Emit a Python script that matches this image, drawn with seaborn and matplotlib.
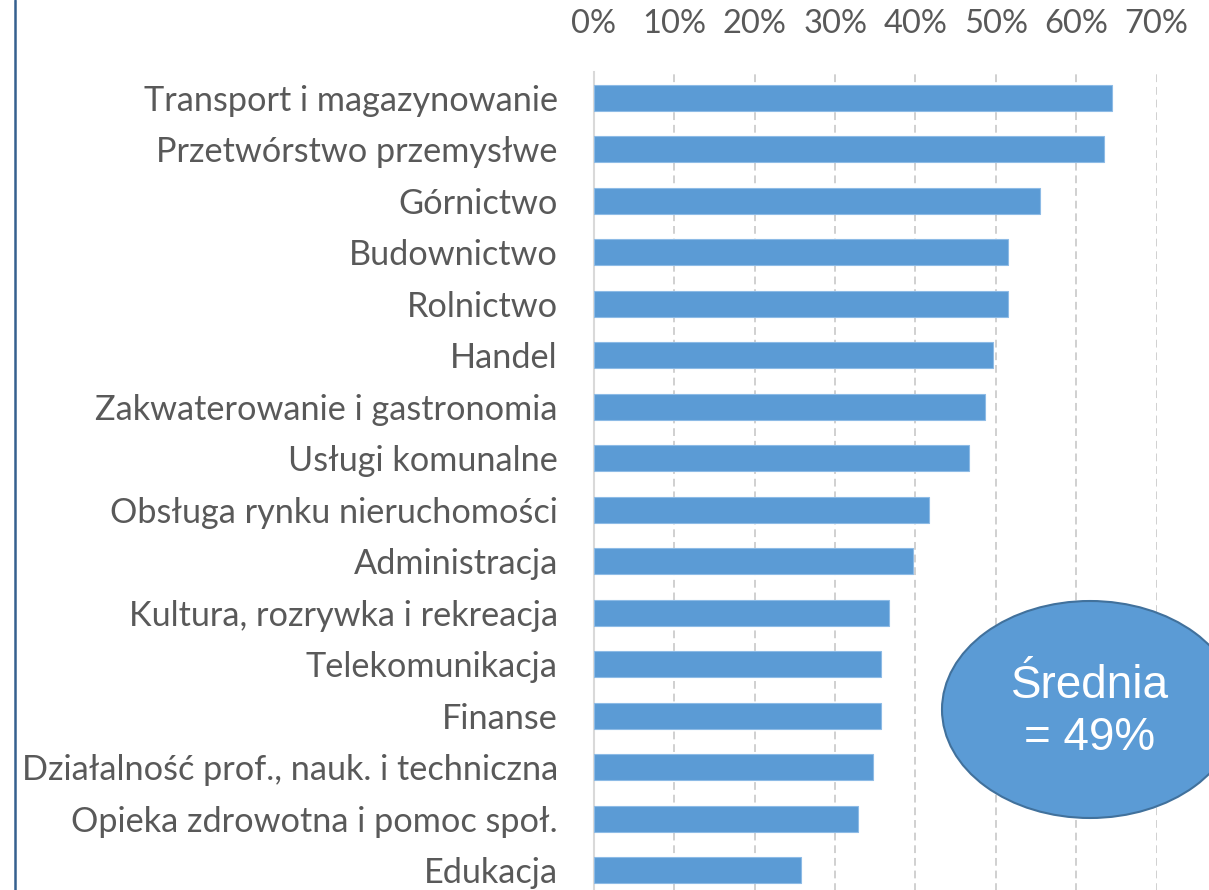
import pandas as pd
import seaborn as sns
import matplotlib.pyplot as plt
from matplotlib.patches import Ellipse
from matplotlib.lines import Line2D
from matplotlib.ticker import PercentFormatter

# Dane
branze = [
    "Transport i magazynowanie",
    "Przetwórstwo przemysłwe",
    "Górnictwo",
    "Budownictwo",
    "Rolnictwo",
    "Handel",
    "Zakwaterowanie i gastronomia",
    "Usługi komunalne",
    "Obsługa rynku nieruchomości",
    "Administracja",
    "Kultura, rozrywka i rekreacja",
    "Telekomunikacja",
    "Finanse",
    "Działalność prof., nauk. i techniczna",
    "Opieka zdrowotna i pomoc społ.",
    "Edukacja",
]
udzial = [0.645, 0.635, 0.555, 0.515, 0.515, 0.496, 0.487, 0.467,
          0.417, 0.397, 0.367, 0.357, 0.357, 0.347, 0.328, 0.258]
xticks = [0, 0.1, 0.2, 0.3, 0.4, 0.5, 0.6, 0.7]
srednia = "Średnia\n= 49%"

df = pd.DataFrame({"Branza": branze, "Udzial": udzial})

sns.set_style("white")
plt.rcParams["font.family"] = ["Lato", "DejaVu Sans"]

fig = plt.figure(figsize=(12.09, 8.90), dpi=100)
ax = fig.add_axes([594 / 1209, -6 / 890, 562.6 / 1209, 824 / 890])

sns.barplot(data=df, x="Udzial", y="Branza", color="#5B9BD5", width=0.5,
            saturation=1, edgecolor="#8DBBE6", linewidth=0.8, ax=ax, zorder=3)

ax.set_xlim(0, 0.7)
ax.set_xticks(xticks)
ax.xaxis.set_major_formatter(PercentFormatter(1.0, decimals=0))
ax.xaxis.tick_top()
ax.tick_params(axis="x", length=0, pad=24, labelsize=23.5, labelcolor="#595959")
ax.tick_params(axis="y", length=0, pad=26, labelsize=24.7, labelcolor="#595959")
ax.set_xlabel("")
ax.set_ylabel("")

ax.grid(axis="x", color="#D0D0D0", linewidth=1.4, linestyle=(0, (4, 2.5)), zorder=0)
for s in ["top", "right", "bottom"]:
    ax.spines[s].set_visible(False)
ax.spines["left"].set_color("#D9D9D9")
ax.spines["left"].set_linewidth(1.5)

# elipsa ze średnią
el = Ellipse((1090 / 1209, 1 - 709.5 / 890), 296 / 1209, 217 / 890,
             transform=fig.transFigure, facecolor="#5B9BD5", edgecolor="#41719C",
             linewidth=1.5, zorder=5, clip_on=False)
fig.patches.append(el)
fig.text(1090 / 1209, 1 - 712 / 890, srednia, ha="center", va="center", color="white",
         fontsize=33, family=["Liberation Sans", "DejaVu Sans"], linespacing=1.25,
         zorder=6)

# ramka po lewej
fig.add_artist(Line2D([15 / 1209, 15 / 1209], [0, 1], transform=fig.transFigure,
                      color="#35608F", linewidth=1.8))

plt.savefig("out.png", dpi=100)
